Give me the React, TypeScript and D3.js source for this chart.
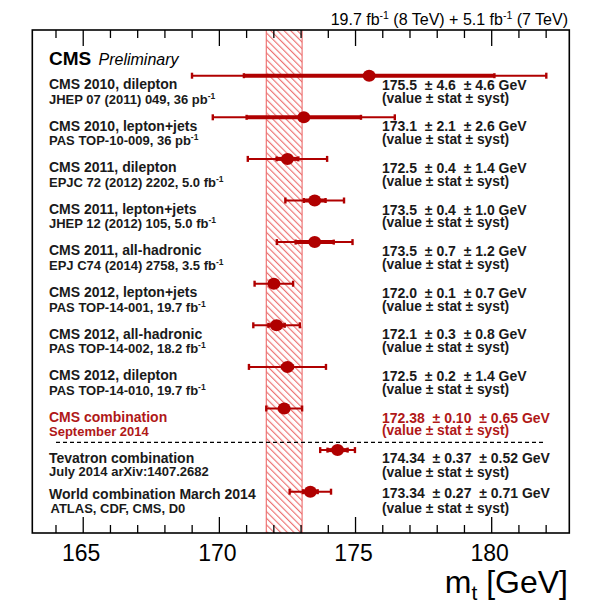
import React from "react";
import * as d3 from "d3";

const titles = [
  "CMS 2010, dilepton",
  "CMS 2010, lepton+jets",
  "CMS 2011, dilepton",
  "CMS 2011, lepton+jets",
  "CMS 2011, all-hadronic",
  "CMS 2012, lepton+jets",
  "CMS 2012, all-hadronic",
  "CMS 2012, dilepton",
  "CMS combination",
  "Tevatron combination",
  "World combination March 2014",
];
const refs = [
  "JHEP 07 (2011) 049, 36 pb",
  "PAS TOP-10-009, 36 pb",
  "EPJC 72 (2012) 2202, 5.0 fb",
  "JHEP 12 (2012) 105, 5.0 fb",
  "EPJ C74 (2014) 2758, 3.5 fb",
  "PAS TOP-14-001, 19.7 fb",
  "PAS TOP-14-002, 18.2 fb",
  "PAS TOP-14-010, 19.7 fb",
  "September 2014",
  "July 2014 arXiv:1407.2682",
  "ATLAS, CDF, CMS, D0",
];
const refHasInvLumi = [true, true, true, true, true, true, true, true, false, false, false];
const values = [175.5, 173.1, 172.5, 173.5, 173.5, 172.0, 172.1, 172.5, 172.38, 174.34, 173.34];
const stats = [4.6, 2.1, 0.4, 0.4, 0.7, 0.1, 0.3, 0.2, 0.10, 0.37, 0.27];
const systs = [4.6, 2.6, 1.4, 1.0, 1.2, 0.7, 0.8, 1.4, 0.65, 0.52, 0.71];
const decimals = [1, 1, 1, 1, 1, 1, 1, 1, 2, 2, 2];
const combinationIndex = 8;
const xTicks = [165, 170, 175, 180];
const xMinorTicks = d3.range(164, 183, 1);

const FONT = "'Liberation Sans', Arial, Helvetica, sans-serif";
const RED = "#b00000";
const TEXTRED = "#b01818";
const DARK = "#1a1a1a";
const HATCH = "#ec6a6a";

export default function App() {
  const W = 610, H = 611;
  const left = 32.3, right = 569.3, top = 30, bottom = 533;
  const x = d3.scaleLinear().domain([163.13, 182.85]).range([left, right]);
  const y = d3.scalePoint<number>().domain(d3.range(values.length)).range([75.7, 491.7]);

  const combVal = values[combinationIndex];
  const combErr = Math.sqrt(stats[combinationIndex] ** 2 + systs[combinationIndex] ** 2);
  const bandX0 = x(combVal - combErr);
  const bandX1 = x(combVal + combErr);

  const dashedY = (y(combinationIndex)! + y(combinationIndex + 1)!) / 2 + 13;

  return (
    <svg width={W} height={H} style={{ position: "absolute", left: 0, top: 0, background: "#fff" }} fontFamily={FONT}>
      <defs>
        <pattern id="hatch" width={4.7} height={4.7} patternUnits="userSpaceOnUse" patternTransform="rotate(-45)">
          <line x1={0.6} y1={-1} x2={0.6} y2={6} stroke={HATCH} strokeWidth={1.1} />
        </pattern>
      </defs>
      <rect x={0} y={0} width={W} height={H} fill="#fff" />

      {/* combination band */}
      <rect x={bandX0} y={top} width={bandX1 - bandX0} height={bottom - top} fill="url(#hatch)" />
      <line x1={bandX0} x2={bandX0} y1={top} y2={bottom} stroke={HATCH} strokeWidth={1.1} />
      <line x1={bandX1} x2={bandX1} y1={top} y2={bottom} stroke={HATCH} strokeWidth={1.1} />

      {/* frame */}
      <rect x={left} y={top} width={right - left} height={bottom - top} fill="none" stroke="#000" strokeWidth={1.6} />
      {xMinorTicks.map((t) => {
        const major = xTicks.includes(t);
        const len = major ? 16 : 8;
        return (
          <g key={t}>
            <line x1={x(t)} x2={x(t)} y1={top} y2={top + len} stroke="#000" strokeWidth={1.3} />
            <line x1={x(t)} x2={x(t)} y1={bottom} y2={bottom - len} stroke="#000" strokeWidth={1.3} />
          </g>
        );
      })}
      {xTicks.map((t) => (
        <text key={t} x={x(t) - 2} y={561} textAnchor="middle" fontSize={23} fill="#000">
          {t}
        </text>
      ))}
      <text x={568} y={593} textAnchor="end" fontSize={32} fill="#000">
        m<tspan fontSize={21} dy={7}>t</tspan>
        <tspan dy={-7}> [GeV]</tspan>
      </text>

      {/* header */}
      <text x={568} y={25} textAnchor="end" fontSize={16} fill="#000">
        19.7 fb<tspan fontSize={10.5} dy={-6}>-1</tspan>
        <tspan dy={6}> (8 TeV) + 5.1 fb</tspan>
        <tspan fontSize={10.5} dy={-6}>-1</tspan>
        <tspan dy={6}> (7 TeV)</tspan>
      </text>
      <text x={49} y={65} fontSize={19} fontWeight="bold" fill="#000">CMS</text>
      <text x={98.5} y={65} fontSize={16} fontStyle="italic" fill="#000">Preliminary</text>

      {/* dashed separator */}
      <line x1={56} x2={543} y1={dashedY} y2={dashedY} stroke="#000" strokeWidth={1.2} strokeDasharray="4 3" />

      {/* rows */}
      {values.map((v, i) => {
        const yy = y(i)!;
        const tot = Math.sqrt(stats[i] ** 2 + systs[i] ** 2);
        const last = i === values.length - 1;
        const tev = i === values.length - 2;
        const lOff1 = last ? 7.6 : tev ? 12.6 : 13.2;
        const lOff2 = last ? 21.6 : tev ? 26 : 27.8;
        const rOff1 = last ? 6.6 : tev ? 12.6 : 14;
        const rOff2 = last ? 21.6 : tev ? 26.6 : 26.8;
        const isComb = i === combinationIndex;
        const col = isComb ? TEXTRED : DARK;
        const d = decimals[i];
        const valTxt = `${v.toFixed(d)}  \u00b1 ${stats[i].toFixed(d)}  \u00b1 ${systs[i].toFixed(d)} GeV`;
        return (
          <g key={i}>
            {/* total error */}
            <line x1={x(v - tot)} x2={x(v + tot)} y1={yy} y2={yy} stroke={RED} strokeWidth={2} />
            <line x1={x(v - tot)} x2={x(v - tot)} y1={yy - 3} y2={yy + 3} stroke={RED} strokeWidth={2.4} />
            <line x1={x(v + tot)} x2={x(v + tot)} y1={yy - 3} y2={yy + 3} stroke={RED} strokeWidth={2.4} />
            {/* stat error */}
            <line x1={x(v - stats[i])} x2={x(v + stats[i])} y1={yy} y2={yy} stroke={RED} strokeWidth={4} />
            <line x1={x(v - stats[i])} x2={x(v - stats[i])} y1={yy - 2.5} y2={yy + 2.5} stroke={RED} strokeWidth={2.4} />
            <line x1={x(v + stats[i])} x2={x(v + stats[i])} y1={yy - 2.5} y2={yy + 2.5} stroke={RED} strokeWidth={2.4} />
            <ellipse cx={x(v)} cy={yy} rx={6.5} ry={6} fill={RED} />

            <text x={49} y={yy + lOff1} fontSize={14} fontWeight="bold" fill={col}>
              {titles[i]}
            </text>
            <text x={last ? 50.5 : 49} y={yy + lOff2} fontSize={13} fontWeight="bold" fill={col}>
              {refs[i]}
              {refHasInvLumi[i] && (
                <tspan fontSize={8.5} dy={-5}>-1</tspan>
              )}
            </text>
            <text x={382} y={yy + rOff1} fontSize={14} fontWeight="bold" fill={col} style={{ whiteSpace: "pre" }}>
              {valTxt}
            </text>
            <text x={382} y={yy + rOff2} fontSize={13.8} fontWeight="bold" fill={col} style={{ whiteSpace: "pre" }}>
              {"(value \u00b1 stat \u00b1 syst)"}
            </text>
          </g>
        );
      })}
    </svg>
  );
}
